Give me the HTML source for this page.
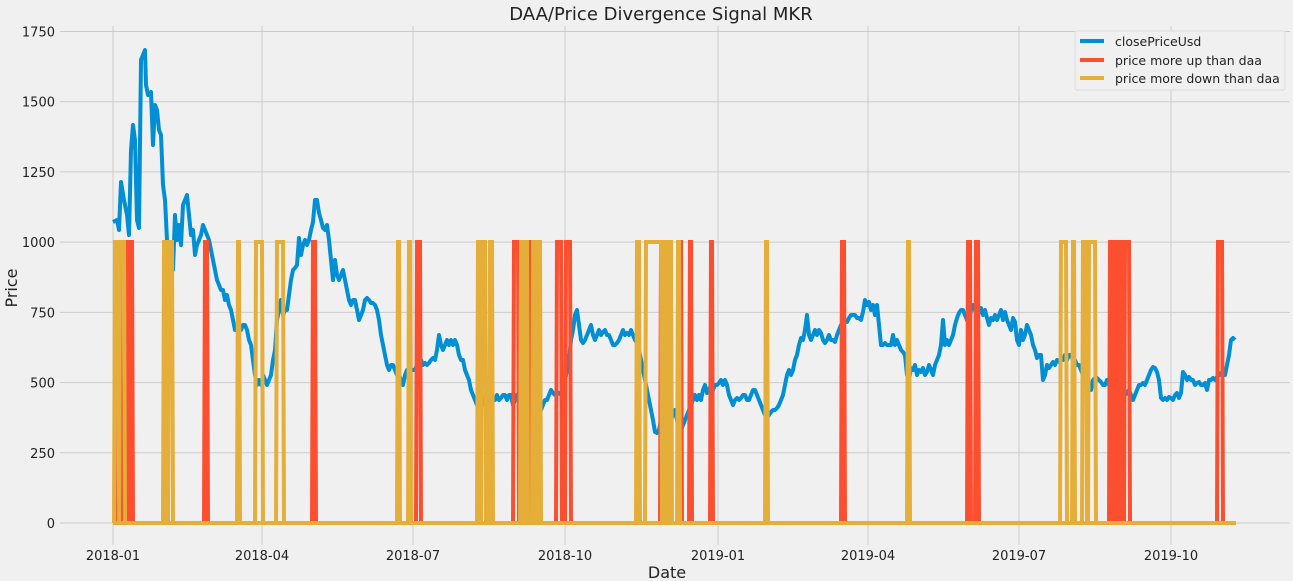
<!DOCTYPE html>
<html><head><meta charset="utf-8"><style>
body{margin:0;background:#f0f0f0;}
svg{display:block;font-family:"DejaVu Sans","Liberation Sans",sans-serif;}
</style></head><body>
<svg id="s" width="1293" height="581" xmlns="http://www.w3.org/2000/svg">
<rect width="1293" height="581" fill="#f0f0f0"/>
<g id="grid" stroke="#cbcbcb" stroke-width="1"></g>
<g id="lab" font-size="13" fill="#222"></g>
<text x="661" y="20" font-size="18" text-anchor="middle" fill="#222">DAA/Price Divergence Signal MKR</text>
<text x="667" y="578" font-size="16" text-anchor="middle" fill="#222">Date</text>
<text x="17" y="288" font-size="16" text-anchor="middle" fill="#222" transform="rotate(-90 17 288)">Price</text>
<polyline id="blue" fill="none" stroke="#008fd5" stroke-width="4" stroke-linejoin="round"/>
<g id="red" fill="none" stroke="#fc4f30" stroke-width="4"></g>
<g id="ora" fill="none" stroke="#e5ae38" stroke-width="4"></g>
<rect x="1075" y="31" width="210" height="59" fill="#f0f0f0" stroke="#dcdcdc" rx="2"/>
<line x1="1080" y1="41" x2="1104" y2="41" stroke="#008fd5" stroke-width="4"/>
<line x1="1080" y1="60" x2="1104" y2="60" stroke="#fc4f30" stroke-width="4"/>
<line x1="1080" y1="78" x2="1104" y2="78" stroke="#e5ae38" stroke-width="4"/>
<g font-size="12.5" fill="#222"><text x="1115" y="46">closePriceUsd</text><text x="1115" y="65">price more up than daa</text><text x="1115" y="83">price more down than daa</text></g>
</svg>
<script>
var NS="http://www.w3.org/2000/svg";
function el(p,t,a,txt){var e=document.createElementNS(NS,t);for(var k in a)e.setAttribute(k,a[k]);if(txt)e.textContent=txt;document.getElementById(p).appendChild(e);}
var y0=523,ys=(523-31.5)/1750;
[0,250,500,750,1000,1250,1500,1750].forEach(function(v){var y=y0-v*ys;el("grid","line",{x1:60,x2:1290,y1:y,y2:y});el("lab","text",{x:55,y:y+5,"text-anchor":"end"},String(v));});
[[113,"2018-01"],[262,"2018-04"],[413,"2018-07"],[565,"2018-10"],[718,"2019-01"],[868,"2019-04"],[1019,"2019-07"],[1171,"2019-10"]].forEach(function(t){el("grid","line",{x1:t[0],x2:t[0],y1:26,y2:545});el("lab","text",{x:t[0],y:560,"text-anchor":"middle"},t[1]);});
var b=[113,222,117,220,119,230,121,182,124,200,127,215,129,235,131,150,133,125,135,140,137,220,139,228,141,60,143,55,145,50,146,85,148,95,151,92,153,145,155,105,157,110,159,130,161,135,163,185,165,200,167,240,169,290,171,260,173,270,175,215,177,240,179,225,181,245,183,205,185,200,187,195,189,215,191,235,193,230,195,255,197,245,199,240,201,235,203,225,205,230,207,235,209,240,211,250,213,260,215,270,217,280,219,285,221,290,223,290,225,300,227,295,229,305,231,310,233,320,235,330,237,330,239,325,241,330,243,325,245,325,247,330,249,340,251,345,253,360,255,375,257,385,259,380,261,385,263,375,265,380,267,385,269,380,271,375,273,360,275,350,277,320,279,310,281,300,283,315,285,310,287,310,289,295,291,280,293,270,295,268,297,265,299,238,301,255,303,245,305,240,307,245,309,240,311,230,313,222,315,200,317,200,319,213,321,220,323,228,325,230,327,225,329,240,331,260,333,280,335,260,337,275,339,280,341,275,343,270,345,280,347,290,349,300,351,305,353,300,355,300,357,310,359,320,361,315,363,310,365,300,367,298,369,300,371,303,373,303,375,305,377,310,379,320,381,335,383,345,385,355,387,365,389,370,391,365,393,365,395,370,397,375,399,375,401,380,403,385,405,375,407,370,409,375,411,370,413,370,415,370,417,365,419,365,421,360,423,365,425,363,427,365,429,363,431,360,433,358,435,360,437,350,439,335,441,345,443,350,445,345,447,340,449,345,451,340,453,345,455,340,457,345,459,355,461,360,463,360,465,370,467,375,469,380,471,390,473,395,475,400,477,405,479,400,481,395,483,400,485,405,487,410,489,400,491,405,493,400,495,400,497,395,499,400,501,398,503,395,505,395,507,400,509,395,511,395,513,405,515,400,517,395,519,400,521,410,523,420,525,420,527,430,529,435,531,420,533,415,535,400,537,420,539,415,541,410,543,405,545,400,547,400,549,395,551,390,553,393,555,395,557,392,559,393,561,395,563,385,565,380,567,370,569,360,571,340,573,330,575,315,577,310,579,325,581,340,583,343,585,340,587,335,589,330,591,325,593,335,595,340,597,335,599,330,601,335,603,332,605,330,607,335,609,335,611,340,613,345,615,345,617,343,619,340,621,335,623,330,625,335,627,333,629,335,631,330,633,335,635,340,637,343,639,350,641,360,643,370,645,380,647,390,649,400,651,410,653,420,655,432,657,433,659,430,661,420,663,415,665,410,667,400,669,410,671,420,673,415,675,410,677,420,679,430,681,430,683,425,685,420,687,415,689,410,691,405,693,400,695,395,697,400,699,395,701,400,703,390,705,385,707,393,709,390,711,385,713,390,715,385,717,385,719,383,721,380,723,385,725,380,727,385,729,395,731,400,733,405,735,400,737,398,739,400,741,398,743,395,745,395,747,400,749,400,751,395,753,390,755,390,757,395,759,400,761,405,763,410,765,415,767,418,769,415,771,412,773,410,775,410,777,408,779,405,781,400,783,395,785,385,787,375,789,370,791,375,793,370,795,360,797,355,799,345,801,338,803,340,805,330,807,315,809,335,811,340,813,335,815,330,817,335,819,330,821,333,823,340,825,343,827,340,829,335,831,340,833,340,835,342,837,335,839,330,841,325,843,325,845,320,847,322,849,318,851,315,853,315,855,315,857,318,859,318,861,320,863,312,865,300,867,305,869,302,871,310,873,305,875,315,877,305,879,325,881,345,883,345,885,343,887,345,889,345,891,345,893,335,895,345,897,340,899,345,901,350,903,352,905,355,907,375,909,380,911,368,913,370,915,365,917,375,919,370,921,372,923,368,925,375,927,372,929,365,931,370,933,375,935,365,937,360,939,355,941,345,943,320,945,345,947,340,949,345,951,340,953,335,955,325,957,318,959,313,961,310,963,310,965,315,967,320,969,325,971,310,973,305,975,310,977,320,979,312,981,308,983,315,985,310,987,318,989,325,991,318,993,320,995,315,997,320,999,315,1001,310,1003,320,1005,312,1007,320,1009,325,1011,330,1013,318,1015,322,1017,340,1019,345,1021,330,1023,340,1025,335,1027,325,1029,330,1031,335,1033,345,1035,350,1037,358,1039,355,1041,355,1043,380,1045,375,1047,365,1049,368,1051,365,1053,362,1055,365,1057,360,1059,362,1061,358,1063,360,1065,355,1067,360,1069,355,1071,355,1073,360,1075,360,1077,365,1079,365,1081,370,1083,375,1085,375,1087,380,1089,390,1091,390,1093,380,1095,378,1097,378,1099,380,1101,382,1103,385,1105,385,1107,380,1109,385,1111,390,1113,395,1115,390,1117,400,1119,395,1121,395,1123,390,1125,395,1127,393,1129,390,1131,395,1133,400,1135,395,1137,390,1139,385,1141,385,1143,383,1145,385,1147,380,1149,375,1151,370,1153,367,1155,368,1157,372,1159,380,1161,398,1163,400,1165,398,1167,400,1169,397,1171,398,1173,400,1175,395,1177,393,1179,398,1181,393,1183,372,1185,375,1187,380,1189,377,1191,380,1193,380,1195,385,1197,383,1199,382,1201,385,1203,385,1205,383,1207,390,1209,380,1211,380,1213,378,1215,380,1217,377,1219,375,1221,373,1223,375,1225,375,1227,365,1229,355,1231,340,1233,338,1235,340];
var p=[];for(var i=0;i<b.length;i+=2)p.push(b[i]+","+b[i+1]);document.getElementById("blue").setAttribute("points",p.join(" "));
var yTop=242;
function sp(g,a,c){el(g,"polyline",{points:(a-1)+","+y0+" "+a+","+yTop+" "+c+","+yTop+" "+(c+1)+","+y0});}
el("red","line",{x1:113,x2:1236,y1:y0,y2:y0});
[[119,120],[125,127],[130,132],[205,207],[313,315],[417,420],[514,518],[525,529],[557,561],[566,570],[661,662],[668,669],[680,681],[690,691],[711,712],[842,844],[968,970],[976,978],[1110,1112],[1116,1118],[1120,1122],[1125,1129],[1218,1222]].forEach(function(r){sp("red",r[0],r[1]);});
el("ora","line",{x1:113,x2:1236,y1:y0,y2:y0});
[[115,118],[120,124],[164,166],[169,172],[238,239],[256,262],[277,283],[398,399],[409,410],[478,479],[482,485],[490,492],[521,523],[525,527],[533,535],[538,540],[637,639],[646,661],[663,665],[669,671],[678,679],[766,767],[908,909],[1061,1066],[1073,1074],[1083,1086],[1089,1095]].forEach(function(r){sp("ora",r[0],r[1]);});
</script>
</body></html>
